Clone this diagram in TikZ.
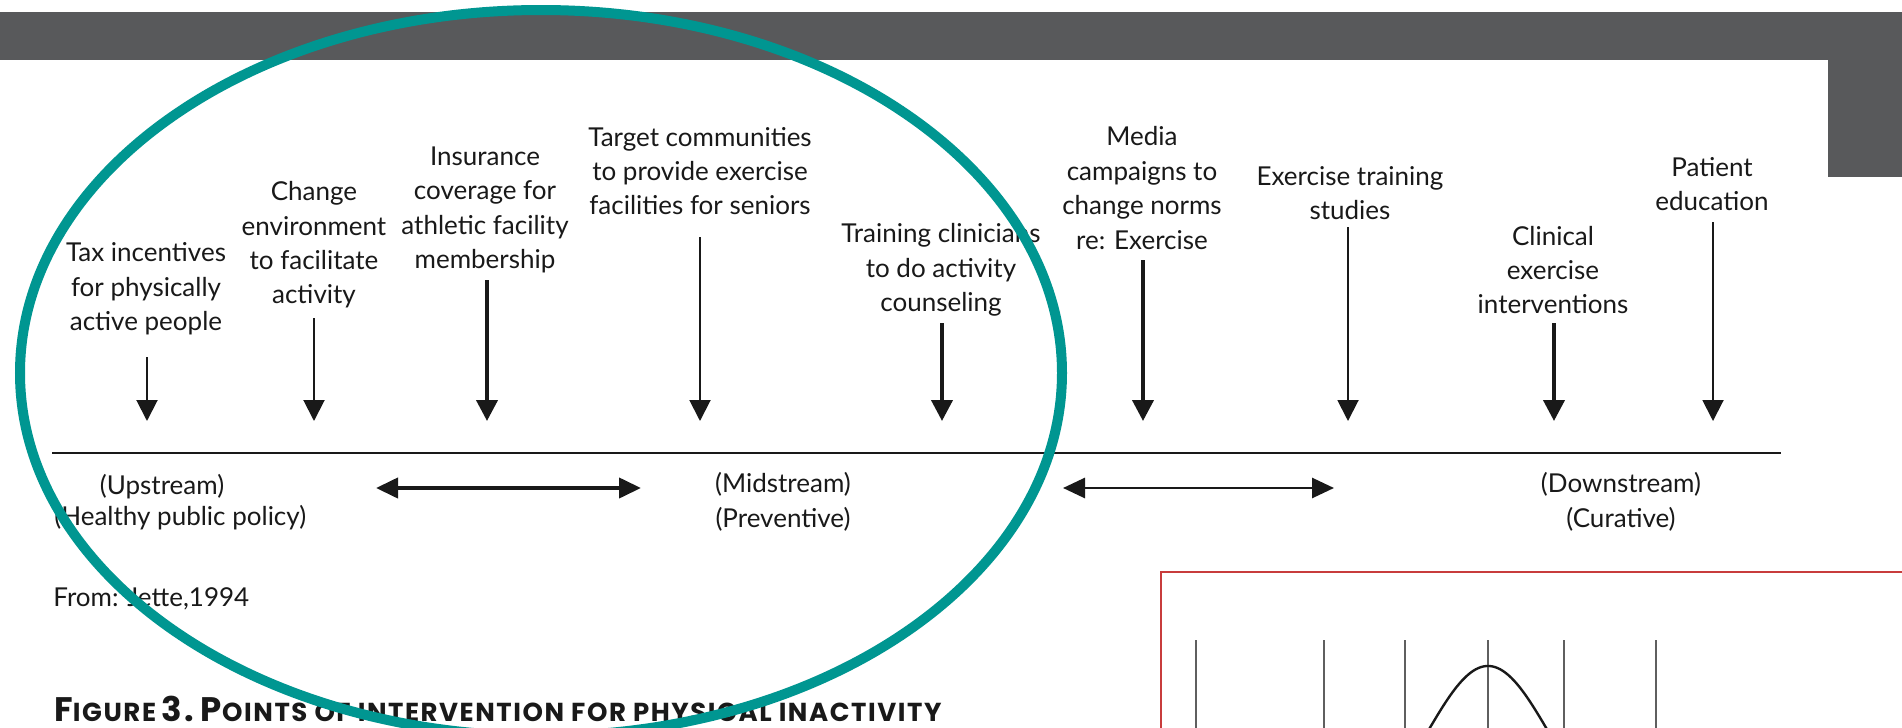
\documentclass[tikz,border=0pt]{standalone}
\usepackage{fontspec}
\setmainfont{Lato}
\newfontfamily\capfamily{Poppins}[LetterSpace=6]
\usetikzlibrary{arrows.meta}

\definecolor{bandgray}{RGB}{88,89,91}
\definecolor{ringteal}{RGB}{0,150,145}
\definecolor{framered}{RGB}{200,60,60}
\definecolor{ink}{RGB}{25,25,25}
\definecolor{gridgray}{RGB}{95,95,95}

% manual small caps for the caption
\newcommand\capbig[1]{{\fontsize{17}{20}\selectfont #1}}
\newcommand\capsmall[1]{{\fontsize{13}{20}\selectfont #1}}

\begin{document}
\begin{tikzpicture}[x=0.5pt, y=-0.5pt,
  lbl/.style={align=center, inner sep=0pt, text=ink,
    font=\fontsize{13}{17.2}\selectfont},
  thinarrow/.style={draw=ink, line width=1pt,
    -{Triangle[length=10.5pt, width=10.5pt]}},
  thickarrow/.style={draw=ink, line width=2pt,
    -{Triangle[length=10.5pt, width=10.5pt]}},
  spanarrow/.style={draw=ink,
    {Triangle[length=11pt, width=10pt]}-{Triangle[length=11pt, width=10pt]}},
]
\clip (0,0) rectangle (1902,728);
\fill[white] (0,0) rectangle (1902,728);

% header band and corner block
\fill[bandgray] (0,12) rectangle (1902,60);
\fill[bandgray] (1828,12) rectangle (1902,177);

% points of intervention
\node[lbl] (tax)   at (146,289)  {Tax incentives\\for physically\\active people};
\node[lbl] (env)   at (314,245)  {Change\\environment\\to facilitate\\activity};
\node[lbl] (ins)   at (485,210)  {Insurance\\coverage for\\athletic facility\\membership};
\node[lbl] (tgt)   at (700,171)  {Target communities\\to provide exercise\\facilities for seniors};
\node[lbl] (clin)  at (941,270)  {Training clinicians\\to do activity\\counseling};
\node[lbl] (media) at (1142,188) {Media\\campaigns to\\change norms\\re: Exercise};
\node[lbl] (study) at (1350,193) {Exercise training\\studies};
\node[lbl] (cure)  at (1553,270) {Clinical\\exercise\\interventions};
\node[lbl] (edu)   at (1712,184) {Patient\\education};

% arrow ends
\coordinate (tax-a)   at (147,357);  \coordinate (tax-b)   at (147,421);
\coordinate (env-a)   at (314,318);  \coordinate (env-b)   at (314,421);
\coordinate (ins-a)   at (487,280);  \coordinate (ins-b)   at (487,421);
\coordinate (tgt-a)   at (700,237);  \coordinate (tgt-b)   at (700,421);
\coordinate (clin-a)  at (942,323);  \coordinate (clin-b)  at (942,421);
\coordinate (media-a) at (1143,260); \coordinate (media-b) at (1143,421);
\coordinate (study-a) at (1348,227); \coordinate (study-b) at (1348,421);
\coordinate (cure-a)  at (1554,323); \coordinate (cure-b)  at (1554,421);
\coordinate (edu-a)   at (1713,222); \coordinate (edu-b)   at (1713,421);

\draw[thinarrow]  (tax-a)   -- (tax-b);
\draw[thinarrow]  (env-a)   -- (env-b);
\draw[thickarrow] (ins-a)   -- (ins-b);
\draw[thinarrow]  (tgt-a)   -- (tgt-b);
\draw[thickarrow] (clin-a)  -- (clin-b);
\draw[thickarrow] (media-a) -- (media-b);
\draw[thinarrow]  (study-a) -- (study-b);
\draw[thickarrow] (cure-a)  -- (cure-b);
\draw[thinarrow]  (edu-a)   -- (edu-b);

% the stream axis
\coordinate (axis-l) at (52,453);
\coordinate (axis-r) at (1781,453);
\draw[ink, line width=1.3pt] (axis-l) -- (axis-r);

% stream labels
\node[lbl] (up1) at (162,487) {(Upstream)};
\node[lbl, anchor=west] (up2) at (54,518) {(Healthy public policy)};
\node[lbl] (mid)  at (783,502)  {(Midstream)\\(Preventive)};
\node[lbl] (down) at (1621,502) {(Downstream)\\(Curative)};

\coordinate (span1-l) at (376,488); \coordinate (span1-r) at (641,488);
\coordinate (span2-l) at (1063,488); \coordinate (span2-r) at (1334,488);
\draw[spanarrow, line width=2pt]   (span1-l) -- (span1-r);
\draw[spanarrow, line width=1.4pt] (span2-l) -- (span2-r);

% source and caption
\node[lbl, anchor=west] (src) at (53,599) {From: Jette,1994};
\node[anchor=west, inner sep=0pt, text=ink, font=\capfamily\bfseries] (cap) at (54,709)
  {\capbig{F}\capsmall{IGURE} \capbig{3.} \capbig{P}\capsmall{OINTS OF INTERVENTION FOR PHYSICAL INACTIVITY}};

% inset frame with a bell curve
\draw[framered, line width=1pt] (1161,740) -- (1161,572) -- (1910,572);
\foreach \gx in {1196,1324,1405,1488,1564,1656}
  \draw[gridgray, line width=0.8pt] (\gx,640) -- (\gx,740);
\draw[ink, line width=1.2pt] plot[domain=1380:1596, samples=80, smooth]
  (\x, {840-174*exp(-(\x-1488)*(\x-1488)/7688)});

% highlight ring
\coordinate (ring) at (541,373);
\draw[ringteal, line width=5pt] (ring) ellipse [x radius=521, y radius=363];
\end{tikzpicture}
\end{document}
